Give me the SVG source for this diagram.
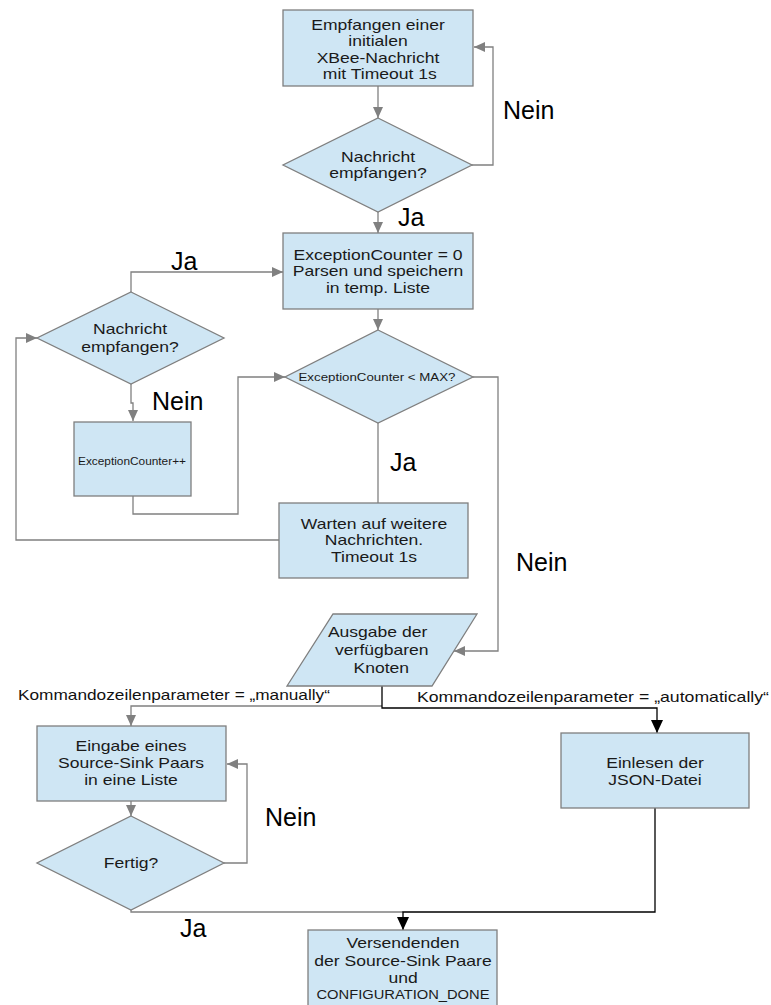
<svg xmlns="http://www.w3.org/2000/svg" width="771" height="1005" viewBox="0 0 771 1005">
<style>
.box{fill:#cfe6f4;stroke:#7f7f7f;stroke-width:1.3}
.t{font-family:"Liberation Sans",Arial,sans-serif;font-size:14.5px;fill:#1a1a1a;text-anchor:middle}
.s{font-size:11.5px}
.lbl{font-family:"Liberation Sans",Arial,sans-serif;font-size:25px;fill:#000}
.klbl{font-family:"Liberation Sans",Arial,sans-serif;font-size:15px;fill:#111}
.c{fill:none;stroke:#808080;stroke-width:1.3}
.k{fill:none;stroke:#000;stroke-width:1.3}
</style>
<defs>
<marker id="ag" markerUnits="userSpaceOnUse" markerWidth="12" markerHeight="10" refX="11" refY="5" orient="auto">
<path d="M0,0 L11,5 L0,10 Z" fill="#808080"/>
</marker>
<marker id="ak" markerUnits="userSpaceOnUse" markerWidth="14" markerHeight="12" refX="13" refY="6" orient="auto">
<path d="M0,0 L13,6 L0,12 Z" fill="#000"/>
</marker>
</defs>
<rect width="771" height="1005" fill="#fff"/>

<g id="connectors">
<path class="c" d="M378,86 V118" marker-end="url(#ag)"/>
<path class="c" d="M472,165 H493 V47 H474" marker-end="url(#ag)"/>
<path class="c" d="M378,212 V233" marker-end="url(#ag)"/>
<path class="c" d="M131,292 V272 H283" marker-end="url(#ag)"/>
<path class="c" d="M378,309 V330" marker-end="url(#ag)"/>
<path class="c" d="M473,377 H498 V651 H454" marker-end="url(#ag)"/>
<path class="c" d="M131,384 V403 H133 V421" marker-end="url(#ag)"/>
<path class="c" d="M133,496 V514 H238 V377 H285" marker-end="url(#ag)"/>
<path class="c" d="M378,423 V503"/>
<path class="c" d="M279,540 H16 V338 H37" marker-end="url(#ag)"/>
<path class="c" d="M382,706 H131 V726" marker-end="url(#ag)"/>
<path class="k" d="M382,686 V708 H657 V733" marker-end="url(#ak)"/>
<path class="c" d="M131,801 V816" marker-end="url(#ag)"/>
<path class="c" d="M224,863 H247 V764 H227" marker-end="url(#ag)"/>
<path class="c" d="M131,910 V912 H403"/>
<path class="k" d="M655,808 V912 H403 V930" marker-end="url(#ak)"/>
<text class="lbl" x="503" y="119">Nein</text>
<text class="lbl" x="398" y="226">Ja</text>
<text class="lbl" x="171" y="270">Ja</text>
<text class="lbl" x="152" y="410">Nein</text>
<text class="lbl" x="390" y="471">Ja</text>
<text class="lbl" x="516" y="571">Nein</text>
<text class="klbl" x="18" y="700" textLength="312" lengthAdjust="spacingAndGlyphs">Kommandozeilenparameter = „manually“</text>
<text class="klbl" x="417" y="702" textLength="352" lengthAdjust="spacingAndGlyphs">Kommandozeilenparameter = „automatically“</text>
<text class="lbl" x="265" y="826">Nein</text>
<text class="lbl" x="180" y="937">Ja</text>
</g>

<g id="n1">
<rect class="box" x="283" y="10" width="190" height="76"/>
<g transform="translate(378 0) scale(1.21 1)">
<text class="t" x="0" y="30">Empfangen einer</text>
<text class="t" x="0" y="46.5">initialen</text>
<text class="t" x="0" y="63">XBee-Nachricht</text>
<text class="t" x="1.5" y="79.5">mit Timeout 1s</text>
</g>
</g>
<g id="n2">
<path class="box" d="M378,118 L472,165 L378,212 L283,165 Z"/>
<g transform="translate(378 0) scale(1.21 1)">
<text class="t" x="0" y="162">Nachricht</text>
<text class="t" x="0" y="178.5">empfangen?</text>
</g>
</g>
<g id="n3">
<rect class="box" x="283" y="233" width="190" height="76"/>
<g transform="translate(378 0) scale(1.21 1)">
<text class="t" x="0" y="260">ExceptionCounter = 0</text>
<text class="t" x="0" y="276.5">Parsen und speichern</text>
<text class="t" x="0" y="293">in temp. Liste</text>
</g>
</g>
<g id="n4">
<path class="box" d="M131,292 L224,338 L131,384 L37,338 Z"/>
<g transform="translate(130 0) scale(1.21 1)">
<text class="t" x="0" y="334">Nachricht</text>
<text class="t" x="0" y="352">empfangen?</text>
</g>
</g>
<g id="n5">
<path class="box" d="M378,330 L473,377 L378,423 L285,377 Z"/>
<text class="t s" x="377" y="381" textLength="157" lengthAdjust="spacingAndGlyphs">ExceptionCounter &lt; MAX?</text>
</g>
<g id="n6">
<rect class="box" x="74" y="422" width="117" height="74"/>
<text class="t s" x="132" y="465" textLength="108" lengthAdjust="spacingAndGlyphs">ExceptionCounter++</text>
</g>
<g id="n7">
<rect class="box" x="279" y="503" width="189" height="75"/>
<g transform="translate(374 0) scale(1.21 1)">
<text class="t" x="0" y="529">Warten auf weitere</text>
<text class="t" x="0" y="545.5">Nachrichten.</text>
<text class="t" x="0" y="562">Timeout 1s</text>
</g>
</g>
<g id="n8">
<path class="box" d="M333,614 L477,614 L432,686 L287,686 Z"/>
<g transform="translate(380 0) scale(1.21 1)">
<text class="t" x="-2" y="637">Ausgabe der</text>
<text class="t" x="1.5" y="655">verfügbaren</text>
<text class="t" x="1" y="673">Knoten</text>
</g>
</g>
<g id="n9">
<rect class="box" x="37" y="726" width="189" height="75"/>
<g transform="translate(131 0) scale(1.21 1)">
<text class="t" x="0" y="751">Eingabe eines</text>
<text class="t" x="0" y="768">Source-Sink Paars</text>
<text class="t" x="0" y="785">in eine Liste</text>
</g>
</g>
<g id="n10">
<path class="box" d="M131,816 L224,863 L131,910 L37,863 Z"/>
<g transform="translate(131 0) scale(1.21 1)">
<text class="t" x="0" y="868">Fertig?</text>
</g>
</g>
<g id="n11">
<rect class="box" x="561" y="733" width="188" height="75"/>
<g transform="translate(655 0) scale(1.21 1)">
<text class="t" x="0" y="768">Einlesen der</text>
<text class="t" x="0" y="785">JSON-Datei</text>
</g>
</g>
<g id="n12">
<rect class="box" x="308" y="930" width="189" height="85"/>
<g transform="translate(403 0) scale(1.21 1)">
<text class="t" x="0" y="948">Versendenden</text>
<text class="t" x="0" y="966">der Source-Sink Paare</text>
<text class="t" x="0" y="983">und</text>
</g>
<text class="t" x="403" y="999" style="font-size:12px" textLength="173" lengthAdjust="spacingAndGlyphs">CONFIGURATION_DONE</text>
</g>
</svg>
